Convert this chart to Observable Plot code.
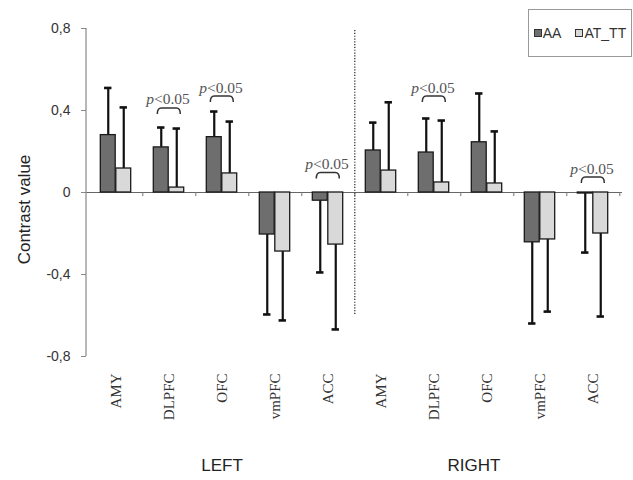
<!DOCTYPE html>
<html><head><meta charset="utf-8">
<script src="https://cdn.jsdelivr.net/npm/d3@7"></script>
<script src="https://cdn.jsdelivr.net/npm/@observablehq/plot@0.6"></script>
<style>
body{margin:0;background:#fff;}
#wrap{position:relative;width:633px;height:480px;}
#legend{position:absolute;left:528px;top:9px;width:104px;height:48px;border:1px solid #999;box-sizing:border-box;display:flex;align-items:center;justify-content:center;gap:14px;font:14px "Liberation Sans",Arial,sans-serif;color:#333;background:#fff;}
#legend .it{display:flex;align-items:center;}
#legend .sw{display:inline-block;width:6px;height:6px;border:1px solid #333;margin-right:1px;}
g[aria-label="x-axis tick label"], g[aria-label="x-axis tick label"] text{font-size:15px !important;font-family:'Liberation Serif','Times New Roman',serif !important;}
g[aria-label="y-axis tick label"], g[aria-label="y-axis tick label"] text{font-size:14px !important;}
</style></head><body><div id="wrap"><div id="legend"></div></div>
<script>
// ---- data ----
const regions = ["AMY", "DLPFC", "OFC", "vmPFC", "ACC"];
const sides = ["L", "R"];
const sideLabels = ["LEFT", "RIGHT"];
const series = ["AA", "AT_TT"];
const seriesColors = ["#6e6e6e", "#d9d9d9"];
// means (left AMY..ACC, right AMY..ACC)
const aaMean  = [0.28, 0.22, 0.27, -0.205, -0.04, 0.205, 0.195, 0.245, -0.243, -0.005];
const aaSD    = [0.23, 0.097, 0.125, 0.39, 0.35, 0.136, 0.166, 0.238, 0.396, 0.288];
const attMean = [0.117, 0.024, 0.093, -0.288, -0.254, 0.107, 0.049, 0.044, -0.229, -0.2];
const attSD   = [0.298, 0.288, 0.253, 0.336, 0.414, 0.333, 0.302, 0.254, 0.352, 0.405];
const yTicks = [-0.8, -0.4, 0, 0.4, 0.8];
const sigGroups = ["DLPFC|L", "OFC|L", "ACC|L", "DLPFC|R", "ACC|R"];
const sigY = [0.41, 0.468, 0.095, 0.468, 0.073];

// ---- build ----
const groups = sides.flatMap(s => regions.map(r => r + "|" + s));
const mk = (means, sds) => groups.map((g, i) => ({
  group: g, mean: means[i], end: means[i] + (means[i] >= 0 ? 1 : -1) * sds[i]
}));
const aaRows = mk(aaMean, aaSD);
const attRows = mk(attMean, attSD);

const W = 633, H = 480, mL = 86, mR = 11, mT = 28, mB = 124;
const bw = (W - mL - mR) / groups.length;
const barW = 15.5, capW = 8;
const pad = (bw - 2 * barW) / 2;
const capIn = bw / 2 - barW / 2 - capW / 2;

function axisLine(index, scales, values, dims) {
  return d3.create("svg:line")
    .attr("x1", dims.marginLeft).attr("x2", dims.marginLeft)
    .attr("y1", scales.y(0.8)).attr("y2", scales.y(-0.8))
    .attr("stroke", "#888").attr("stroke-width", 1.2).node();
}
function brackets(index, scales) {
  const g = d3.create("svg:g").attr("fill", "none").attr("stroke", "#333").attr("stroke-width", 1.5);
  sigGroups.forEach((s, i) => {
    const cx = scales.x(s) + bw / 2, y0 = scales.y(sigY[i]), h = 11.5, d = 6;
    g.append("path").attr("d",
      `M${cx - h},${y0 + d}Q${cx - h},${y0} ${cx - h + 4},${y0}L${cx + h - 4},${y0}Q${cx + h},${y0} ${cx + h},${y0 + d}`);
  });
  return g.node();
}
const sig = sigGroups.map((g, i) => ({group: g, y: sigY[i]}));
const serif = "'Liberation Serif', 'Times New Roman', serif";

const chart = Plot.plot({
  width: W, height: H,
  marginLeft: mL, marginRight: mR, marginTop: mT, marginBottom: mB,
  style: {fontFamily: "'Liberation Sans', Arial, sans-serif", background: "#fff", color: "#333"},
  x: {type: "band", domain: groups, padding: 0},
  y: {domain: [-0.8, 0.8]},
  marks: [
    Plot.ruleY([0], {stroke: "#666", strokeWidth: 1.2}),
    Plot.ruleX(groups, {x: d => d, dx: bw / 2, y1: 0, y2: -0.02, stroke: "#777", strokeWidth: 1}),
    Plot.ruleX(aaRows, {x: "group", y1: "mean", y2: "end", dx: -barW / 2, stroke: "#111", strokeWidth: 2.2}),
    Plot.ruleX(attRows, {x: "group", y1: "mean", y2: "end", dx: barW / 2, stroke: "#111", strokeWidth: 2.2}),
    Plot.tickY(aaRows, {x: "group", y: "end", insetLeft: capIn, insetRight: bw - capIn - capW, stroke: "#111", strokeWidth: 2.6}),
    Plot.tickY(attRows, {x: "group", y: "end", insetLeft: capIn + barW, insetRight: bw - capIn - barW - capW, stroke: "#111", strokeWidth: 2.6}),
    Plot.barY(aaRows, {x: "group", y: "mean", fill: seriesColors[0], stroke: "#1a1a1a", strokeWidth: 1.3, insetLeft: pad, insetRight: pad + barW}),
    Plot.barY(attRows, {x: "group", y: "mean", fill: seriesColors[1], stroke: "#1a1a1a", strokeWidth: 1.3, insetLeft: pad + barW, insetRight: pad}),
    Plot.ruleX([groups[regions.length - 1]], {x: d => d, dx: bw / 2, y1: 0.79, y2: -0.6, stroke: "#333", strokeWidth: 1.3, strokeDasharray: "1.2,1.6"}),
    axisLine,
    Plot.axisY({ticks: yTicks, tickFormat: d => d === 0 ? "0" : String(d).replace(".", ","), tickSize: 5, tickPadding: 11, fontSize: 14, label: null, stroke: "#888", fill: "#333"}),
    Plot.axisX({tickRotate: -90, tickSize: 0, tickPadding: 17, tickFormat: d => d.split("|")[0], fontFamily: serif, fontSize: 15, label: null, fill: "#333"}),
    brackets,
    Plot.text(sig, {x: "group", y: "y", text: () => "p", fontStyle: "italic", textAnchor: "end", dx: -15, dy: -9, fontFamily: serif, fontSize: 15.5, fill: "#555"}),
    Plot.text(sig, {x: "group", y: "y", text: () => "<0.05", textAnchor: "start", dx: -15, dy: -9, fontFamily: serif, fontSize: 15.5, fill: "#555"}),
    Plot.text([sideLabels[0]], {x: () => "OFC|L", text: d => d, frameAnchor: "bottom", dy: 114, fontSize: 17, fill: "#222"}),
    Plot.text([sideLabels[1]], {x: () => "OFC|R", text: d => d, frameAnchor: "bottom", dy: 114, dx: -13, fontSize: 17, fill: "#222"}),
    Plot.text(["Contrast value"], {frameAnchor: "left", textAnchor: "middle", text: d => d, rotate: -90, dx: -62, dy: 17, fontSize: 17, fill: "#222"})
  ]
});
const wrap = document.getElementById("wrap");
wrap.insertBefore(chart, wrap.firstChild);
const leg = document.getElementById("legend");
series.forEach((s, i) => {
  const it = document.createElement("span"); it.className = "it";
  const sw = document.createElement("span"); sw.className = "sw"; sw.style.background = seriesColors[i];
  it.appendChild(sw); it.appendChild(document.createTextNode(s));
  leg.appendChild(it);
});
</script>
</body></html>
